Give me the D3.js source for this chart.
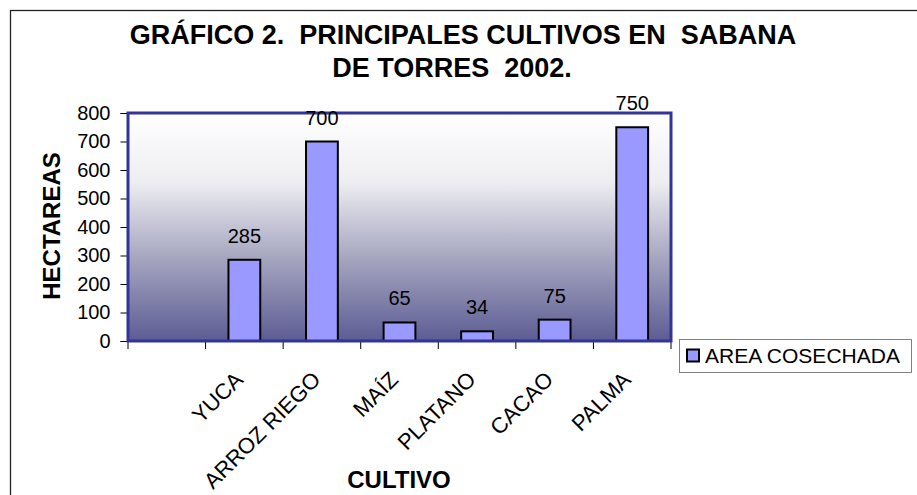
<!DOCTYPE html>
<html>
<head>
<meta charset="utf-8">
<script src="https://cdn.jsdelivr.net/npm/d3@7"></script>
<style>
  body { margin: 0; background: #fff; }
  svg text { font-family: "Liberation Sans", Arial, sans-serif; }
</style>
</head>
<body>
<div id="chart"><svg></svg></div>
<script>
// data
var categories = ["", "YUCA", "ARROZ RIEGO", "MAÍZ", "PLATANO", "CACAO", "PALMA"];
var areaCosechada = [null, 285, 700, 65, 34, 75, 750];
var yTicks = [0, 100, 200, 300, 400, 500, 600, 700, 800];
var titleLines = ["GRÁFICO 2.  PRINCIPALES CULTIVOS EN  SABANA", "DE TORRES  2002."];
var seriesName = "AREA COSECHADA";

/**
 * Constructor
 */
function BarView(svgid, width, height){
    this.svgId = svgid;
    this.svgWidth = width;
    this.svgHeight = height;
    this.plot = { left: 128, right: 671, top: 113, bottom: 341 };
}

/**
 * Initialization
 */
BarView.prototype.init = function(){
    this.svg = d3.select(this.svgId).select('svg')
        .attr('width', this.svgWidth)
        .attr('height', this.svgHeight);

    var grad = this.svg.append('defs').append('linearGradient')
        .attr('id', 'plotGrad')
        .attr('x1', 0).attr('y1', 0).attr('x2', 0).attr('y2', 1);
    grad.append('stop').attr('offset', '0%').attr('stop-color', '#ffffff');
    grad.append('stop').attr('offset', '30%').attr('stop-color', '#eeeef2');
    grad.append('stop').attr('offset', '62%').attr('stop-color', '#a9a9c2');
    grad.append('stop').attr('offset', '100%').attr('stop-color', '#5c5c94');

    // chart area border (runs off the right and bottom)
    this.svg.append('rect')
        .attr('x', 10.5).attr('y', 10.5)
        .attr('width', 1000).attr('height', 1000)
        .attr('fill', 'none')
        .attr('stroke', '#222')
        .attr('stroke-width', 1.3);

    this.x = d3.scaleBand()
        .domain(categories)
        .range([this.plot.left, this.plot.right]);

    this.y = d3.scaleLinear()
        .domain([0, 800])
        .range([this.plot.bottom, this.plot.top]);

    // where the rotated category labels end
    this.labelY = this.plot.bottom + 40;
};

/**
 * Draw the view
 */
BarView.prototype.update = function(){
    var x = this.x, y = this.y, p = this.plot;
    var svg = this.svg;

    // plot area background
    svg.append('rect')
        .attr('x', p.left).attr('y', p.top)
        .attr('width', p.right - p.left)
        .attr('height', p.bottom - p.top)
        .attr('fill', 'url(#plotGrad)');

    // y axis
    var yAxis = d3.axisLeft(y).tickValues(yTicks).tickSize(7).tickPadding(10);
    var gy = svg.append('g')
        .attr('transform', 'translate(' + (p.left - 0.5) + ',0)')
        .call(yAxis);
    gy.select('.domain').attr('stroke', '#000');
    gy.selectAll('.tick line').attr('stroke', '#000');
    gy.selectAll('.tick text')
        .attr('font-size', 20)
        .attr('fill', '#000')
        .style('font-family', '"Liberation Sans", Arial, sans-serif');

    // x axis ticks at category boundaries
    var bounds = categories.map(function (c) { return x(c); }).concat([x.range()[1]]);
    svg.append('g').selectAll('line').data(bounds).enter()
        .append('line')
        .attr('x1', function (d) { return d; })
        .attr('x2', function (d) { return d; })
        .attr('y1', p.bottom)
        .attr('y2', p.bottom + 8)
        .attr('stroke', '#000');

    // bars
    var bw = x.bandwidth() * 0.41;
    var rows = categories.map(function (c, i) { return { cat: c, val: areaCosechada[i] }; })
        .filter(function (d) { return d.val !== null; });

    svg.append('g').selectAll('rect').data(rows).enter()
        .append('rect')
        .attr('x', function (d) { return x(d.cat) + x.bandwidth() / 2 - bw / 2; })
        .attr('y', function (d) { return y(d.val); })
        .attr('width', bw)
        .attr('height', function (d) { return y(0) - y(d.val); })
        .attr('fill', '#9999ff')
        .attr('stroke', '#000')
        .attr('stroke-width', 2);

    // plot border
    svg.append('rect')
        .attr('x', p.left).attr('y', p.top)
        .attr('width', p.right - p.left)
        .attr('height', p.bottom - p.top)
        .attr('fill', 'none')
        .attr('stroke', '#333399')
        .attr('stroke-width', 3);

    // data labels
    svg.append('g').selectAll('text').data(rows).enter()
        .append('text')
        .attr('x', function (d) { return x(d.cat) + x.bandwidth() / 2; })
        .attr('y', function (d) { return y(d.val) - 17; })
        .attr('text-anchor', 'middle')
        .attr('font-size', 20)
        .text(function (d) { return d.val; });

    // category labels
    var ly = this.labelY;
    svg.append('g').selectAll('text').data(categories).enter()
        .append('text')
        .attr('transform', function (d) {
            return 'translate(' + (x(d) + x.bandwidth() / 2) + ',' + ly + ') rotate(-45)';
        })
        .attr('text-anchor', 'end')
        .attr('font-size', 22)
        .text(function (d) { return d; });

    // title
    svg.append('g').selectAll('text').data(titleLines).enter()
        .append('text')
        .attr('x', function (d, i) { return i === 0 ? 463 : 452; })
        .attr('y', function (d, i) { return 44 + i * 33; })
        .attr('text-anchor', 'middle')
        .attr('font-size', 27)
        .attr('font-weight', 'bold')
        .style('white-space', 'pre')
        .text(function (d) { return d; });

    // axis titles
    svg.append('text')
        .attr('transform', 'translate(60,226) rotate(-90)')
        .attr('text-anchor', 'middle')
        .attr('font-size', 24)
        .attr('font-weight', 'bold')
        .text('HECTAREAS');

    svg.append('text')
        .attr('x', 399).attr('y', 488)
        .attr('text-anchor', 'middle')
        .attr('font-size', 24)
        .attr('font-weight', 'bold')
        .text('CULTIVO');

    // legend
    var lg = svg.append('g');
    lg.append('rect')
        .attr('x', 679.5).attr('y', 339.5)
        .attr('width', 232).attr('height', 33)
        .attr('fill', '#fff')
        .attr('stroke', '#808080');
    lg.append('rect')
        .attr('x', 687).attr('y', 349.5)
        .attr('width', 12).attr('height', 12)
        .attr('fill', '#9999ff')
        .attr('stroke', '#000')
        .attr('stroke-width', 2);
    lg.append('text')
        .attr('x', 705).attr('y', 363)
        .attr('font-size', 21)
        .text(seriesName);
};

var view = new BarView('#chart', 917, 495);
view.init();
view.update();
</script>
</body>
</html>
